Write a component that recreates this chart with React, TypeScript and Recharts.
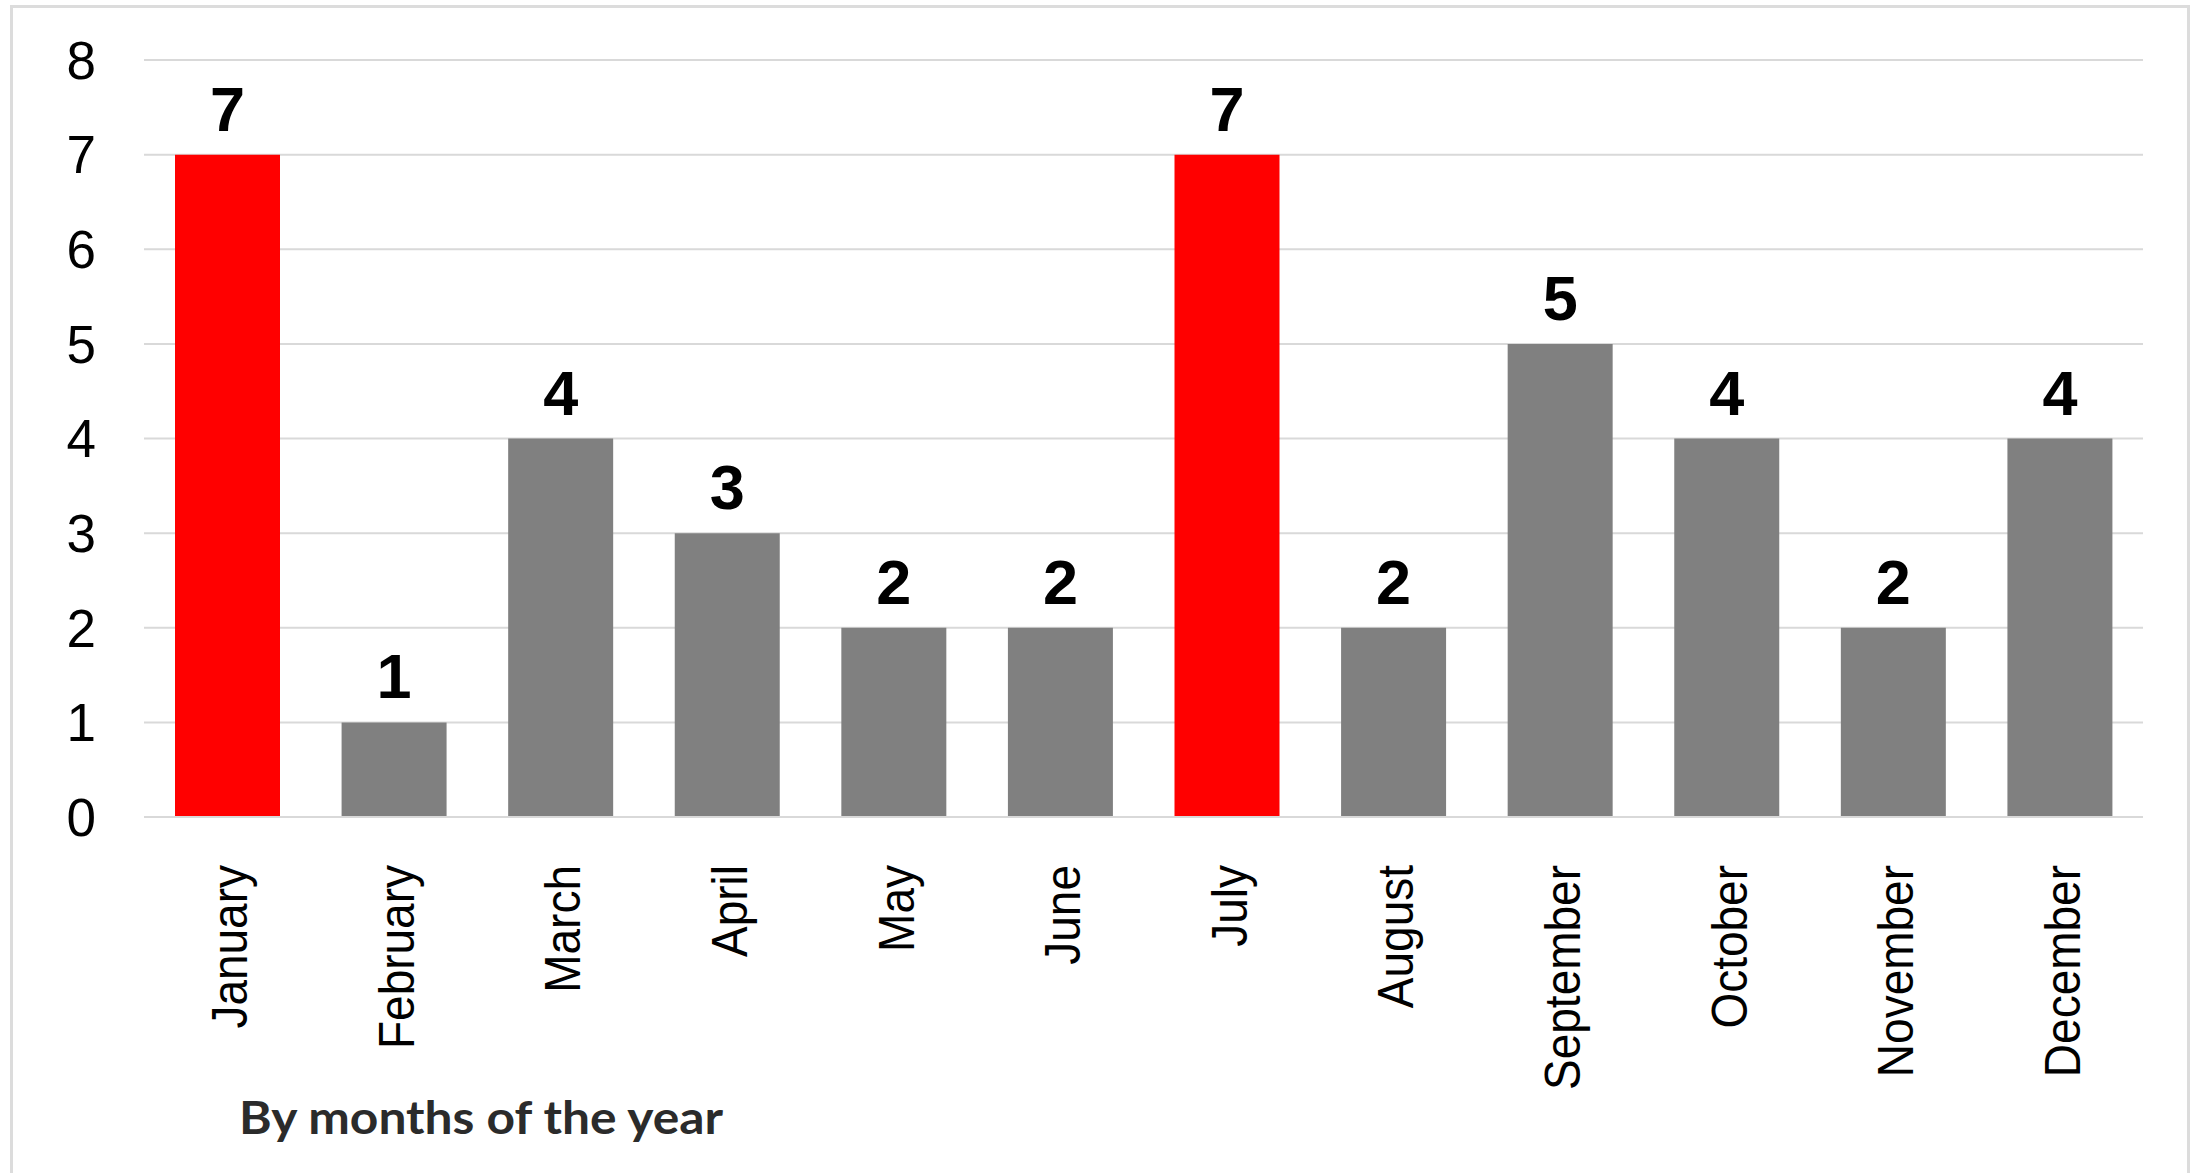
import { BarChart, Bar, XAxis, YAxis, CartesianGrid, Cell, LabelList } from 'recharts';

const months = [
  'January', 'February', 'March', 'April', 'May', 'June',
  'July', 'August', 'September', 'October', 'November', 'December',
];
const counts = [7, 1, 4, 3, 2, 2, 7, 2, 5, 4, 2, 4];
const yTicks = [0, 1, 2, 3, 4, 5, 6, 7, 8];

const data = months.map((month, i) => ({ month, count: counts[i] }));
const maxCount = Math.max(...counts);

const FONT = '"Liberation Sans", Arial, sans-serif';

// rotated month names, glyphs slightly widened like the source image
function MonthTick({ x, y, payload }: any) {
  return (
    <g transform={`translate(${x + 20},${y}) rotate(-90) scale(1,1.07)`}>
      <text textAnchor="end" fontSize={46} fontFamily={FONT} fill="#000">
        {payload.value}
      </text>
    </g>
  );
}

export default function App() {
  return (
    <div style={{ position: 'absolute', left: 0, top: 0, width: 2199, height: 1173, overflow: 'hidden', background: '#fff' }}>
      <div style={{ position: 'absolute', left: 10, top: 5, width: 2180, height: 1250, border: '3px solid #dcdcdc', boxSizing: 'border-box' }} />
      <BarChart
        width={2199}
        height={1173}
        data={data}
        margin={{ top: 60, right: 56, bottom: 0, left: 0 }}
      >
        <CartesianGrid vertical={false} stroke="#d9d9d9" strokeWidth={2} />
        <XAxis
          dataKey="month"
          interval={0}
          height={356}
          tick={<MonthTick />}
          tickLine={false}
          tickSize={0}
          tickMargin={48}
          axisLine={{ stroke: '#d9d9d9', strokeWidth: 2 }}
        />
        <YAxis
          width={144}
          domain={[0, 8]}
          ticks={yTicks}
          interval={0}
          tickLine={false}
          axisLine={false}
          tickSize={0}
          tickMargin={48}
          tick={{ fill: '#000', fontSize: 53, fontFamily: FONT }}
        />
        <Bar dataKey="count" barSize={105} isAnimationActive={false}>
          {data.map((d, i) => (
            <Cell key={i} fill={d.count === maxCount ? '#ff0000' : '#808080'} />
          ))}
          <LabelList
            dataKey="count"
            position="top"
            offset={24}
            fill="#000"
            fontSize={63}
            fontWeight={700}
            fontFamily={FONT}
          />
        </Bar>
      </BarChart>
      <svg style={{ position: 'absolute', left: 0, top: 0 }} width={2199} height={1173}>
        <text
          x={239}
          y={1134}
          fontFamily="Lato, 'Open Sans', sans-serif"
          fontWeight={700}
          fontSize={45}
          fill="#2b2b2b"
          textLength={484}
          lengthAdjust="spacingAndGlyphs"
        >
          By months of the year
        </text>
      </svg>
    </div>
  );
}
